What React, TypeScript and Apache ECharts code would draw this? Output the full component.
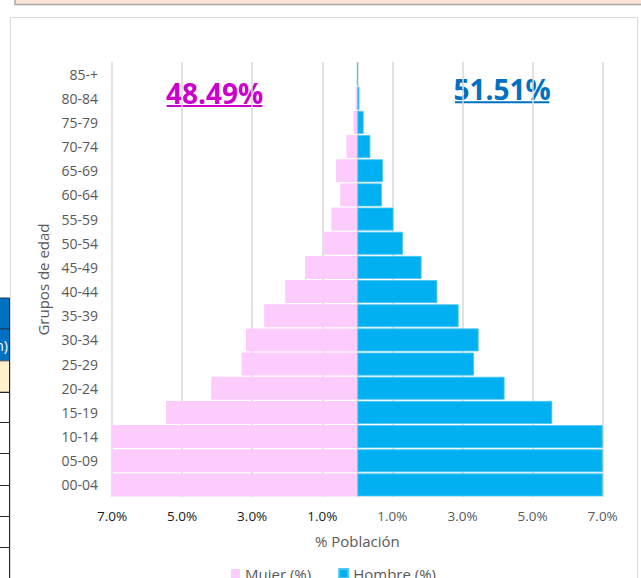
import React, { useEffect, useRef } from "react";
import * as echarts from "echarts";

const categories = ["00-04", "05-09", "10-14", "15-19", "20-24", "25-29", "30-34", "35-39", "40-44", "45-49", "50-54", "55-59", "60-64", "65-69", "70-74", "75-79", "80-84", "85-+"];
const mujer = [7.0, 7.0, 7.0, 5.46, 4.17, 3.3, 3.18, 2.66, 2.06, 1.49, 0.98, 0.74, 0.49, 0.61, 0.31, 0.11, 0.05, 0.0];
const hombre = [7.0, 7.0, 7.0, 5.56, 4.2, 3.33, 3.46, 2.89, 2.28, 1.83, 1.3, 1.03, 0.7, 0.73, 0.37, 0.18, 0.06, 0.0];
const gridValues = [-7, -5, -3, -1, 0, 1, 3, 5, 7];
const totalMujer = "48.49%";
const totalHombre = "51.51%";

const FONT = "'Open Sans', 'Liberation Sans', sans-serif";
const PINK = "#FCCCFC";
const BLUE = "#00B0F0";
const GREY = "#595959";

export default function App() {
  const ref = useRef<HTMLDivElement>(null);
  useEffect(() => {
    document.body.style.margin = "0";
    const chart = echarts.init(ref.current!, null, { renderer: "svg" });
    const tableRows = [392, 422, 453, 485, 516, 547];
    const graphics: any[] = [
      { type: "rect", z: -10, shape: { x: 15, y: -5, width: 640, height: 9.5 }, style: { fill: "#FBE5D6", stroke: "#A6A6A6", lineWidth: 1.5 } },
      { type: "rect", z: -10, shape: { x: 10.5, y: 17.5, width: 627, height: 600 }, style: { fill: "#ffffff", stroke: "#D9D9D9", lineWidth: 1 } },
      { type: "rect", z: -9, shape: { x: -2, y: 298, width: 11.5, height: 31 }, style: { fill: "#0070C0", stroke: "#1F3864", lineWidth: 1 } },
      { type: "rect", z: -9, shape: { x: -2, y: 329, width: 11.5, height: 32 }, style: { fill: "#0070C0", stroke: "#1F3864", lineWidth: 1 } },
      { type: "text", z: -8, style: { x: 8, y: 345, text: "n)", fill: "#ffffff", fontSize: 14, fontFamily: FONT, align: "right", verticalAlign: "middle" } },
      { type: "rect", z: -9, shape: { x: -2, y: 361, width: 11.5, height: 31 }, style: { fill: "#FFF2CC", stroke: "#7F7F7F", lineWidth: 1 } },
      { type: "line", z: -9, shape: { x1: 9.5, y1: 298, x2: 9.5, y2: 580 }, style: { stroke: "#262626", lineWidth: 1 } },
      ...tableRows.map((y) => ({ type: "line", z: -9, shape: { x1: -2, y1: y + 0.5, x2: 9.5, y2: y + 0.5 }, style: { stroke: "#262626", lineWidth: 1 } })),
      { type: "text", style: { x: 214.5, y: 93, text: totalMujer, fill: "#CC00CC", fontSize: 28, fontWeight: "bold", fontFamily: FONT, align: "center", verticalAlign: "middle" } },
      { type: "line", shape: { x1: 166.7, y1: 106, x2: 262.3, y2: 106 }, style: { stroke: "#CC00CC", lineWidth: 2 } },
      { type: "text", style: { x: 502, y: 89, text: totalHombre, fill: "#0070C0", fontSize: 28, fontWeight: "bold", fontFamily: FONT, align: "center", verticalAlign: "middle" } },
      { type: "line", shape: { x1: 455, y1: 102.3, x2: 549.3, y2: 102.3 }, style: { stroke: "#0070C0", lineWidth: 2 } },
    ];

    chart.setOption({
      animation: false,
      textStyle: { fontFamily: FONT },
      graphic: graphics,
      grid: { left: 112, top: 62, width: 490.7, height: 435 },
      legend: {
        data: ["Mujer (%)", "Hombre (%)"],
        left: 226,
        top: 561,
        icon: "rect",
        itemWidth: 9,
        itemHeight: 9,
        itemGap: 27,
        textStyle: { fontSize: 15, color: GREY, fontFamily: FONT },
      },
      xAxis: {
        type: "value",
        min: -7,
        max: 7,
        interval: 1,
        name: "% Población",
        nameLocation: "middle",
        nameGap: 36,
        nameTextStyle: { fontSize: 15, color: GREY, fontFamily: FONT },
        axisLine: { show: false },
        axisTick: { show: false },
        splitLine: { show: false },
        axisLabel: {
          margin: 12,
          formatter: (v: number) => {
            const r = Math.round(v);
            if (Math.abs(r) % 2 === 0) return "";
            const t = Math.abs(r).toFixed(1) + "%";
            return r < 0 ? `{l|${t}}` : `{r|${t}}`;
          },
          rich: {
            l: { color: "#1a1a1a", fontSize: 13.5, fontFamily: FONT },
            r: { color: GREY, fontSize: 13.5, fontFamily: FONT },
          },
        },
      },
      yAxis: {
        type: "category",
        data: categories,
        name: "Grupos de edad",
        nameLocation: "middle",
        nameRotate: 90,
        nameGap: 58,
        nameTextStyle: { fontSize: 15, color: GREY, fontFamily: FONT },
        axisLine: { show: false, onZero: false },
        axisTick: { show: false },
        splitLine: { show: false },
        axisLabel: { color: GREY, fontSize: 14, margin: 14, fontFamily: FONT },
      },
      series: [
        {
          type: "line",
          data: [],
          z: 0,
          silent: true,
          markLine: {
            z: 0,
            silent: true,
            symbol: "none",
            label: { show: false },
            lineStyle: { color: "#D9D9D9", width: 1.5, type: "solid" },
            data: gridValues.map((v) => ({ xAxis: v })),
          },
        },
        {
          name: "Mujer (%)",
          type: "bar",
          data: mujer.map((v) => -v),
          barGap: "-100%",
          barCategoryGap: "5%",
          itemStyle: { color: PINK },
          z: 2,
        },
        {
          name: "Hombre (%)",
          type: "bar",
          data: hombre,
          barGap: "-100%",
          barCategoryGap: "5%",
          itemStyle: { color: BLUE, borderColor: "#4FC6F2", borderWidth: 0.8 },
          z: 2,
        },
      ],
    });
    return () => chart.dispose();
  }, []);
  return <div ref={ref} style={{ position: "absolute", left: 0, top: 0, width: 641, height: 578 }} />;
}
